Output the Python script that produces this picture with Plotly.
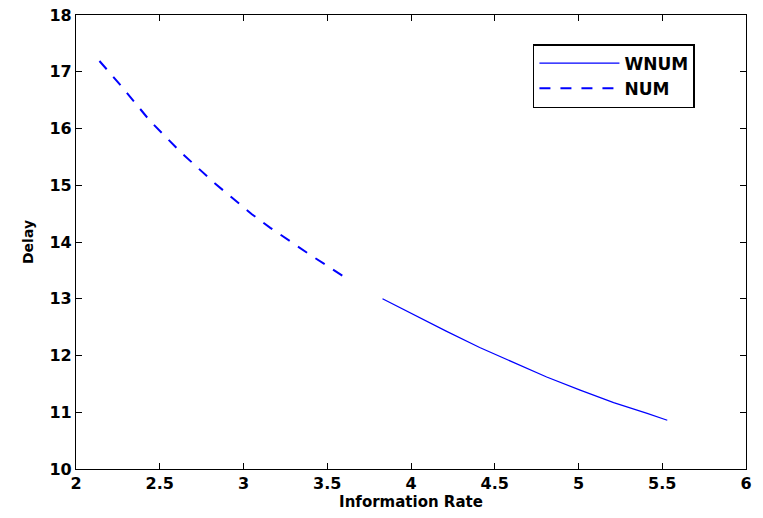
import plotly.graph_objects as go

# Data
num_x = [2.14, 2.27, 2.44, 2.63, 2.83, 3.05, 3.16, 3.39, 3.63]
num_y = [17.19, 16.75, 16.14, 15.57, 15.03, 14.49, 14.25, 13.79, 13.33]

wnum_x = [3.83, 4.0, 4.21, 4.41, 4.61, 4.81, 5.01, 5.21, 5.41, 5.53]
wnum_y = [13.0, 12.74, 12.43, 12.14, 11.88, 11.62, 11.39, 11.17, 10.98, 10.86]

x_ticks = [2, 2.5, 3, 3.5, 4, 4.5, 5, 5.5, 6]
x_tick_labels = ["2", "2.5", "3", "3.5", "4", "4.5", "5", "5.5", "6"]
y_ticks = [10, 11, 12, 13, 14, 15, 16, 17, 18]
y_tick_labels = ["10", "11", "12", "13", "14", "15", "16", "17", "18"]

FONT = "DejaVu Sans"

fig = go.Figure()
fig.add_trace(go.Scatter(
    x=wnum_x, y=wnum_y, mode="lines", name="WNUM",
    line=dict(color="#0000ff", width=1.2),
))
fig.add_trace(go.Scatter(
    x=num_x, y=num_y, mode="lines", name="NUM",
    line=dict(color="#0000ff", width=2, dash="11px,10px"),
))

axis_common = dict(
    showgrid=False, zeroline=False, showline=True, linecolor="black",
    linewidth=1.3, mirror="ticks", ticks="inside", ticklen=6,
    tickcolor="black", tickwidth=1, automargin=False,
    tickfont=dict(family=FONT, size=16, color="black", weight="bold"),
)

fig.update_layout(
    width=763, height=518,
    margin=dict(l=76, r=17, t=15, b=49),
    paper_bgcolor="white", plot_bgcolor="white",
    font=dict(family=FONT, size=16, color="black", weight="bold"),
    xaxis=dict(
        range=[2, 6], tickvals=x_ticks, ticktext=x_tick_labels,
        title=dict(text="Information Rate", standoff=0,
                   font=dict(family=FONT, size=15, color="black", weight="bold")),
        **axis_common,
    ),
    yaxis=dict(
        range=[10, 18], tickvals=y_ticks, ticktext=y_tick_labels,
        title=dict(text="Delay", standoff=12,
                   font=dict(family=FONT, size=14, color="black", weight="bold")),
        **axis_common,
    ),
    legend=dict(
        x=0.682, y=0.936, xanchor="left", yanchor="top",
        bgcolor="white", bordercolor="black", borderwidth=1.5,
        font=dict(family=FONT, size=17, color="black", weight="bold"),
        itemwidth=80, tracegroupgap=0,
    ),
    showlegend=True,
)

fig.write_html("out.html", config={"displayModeBar": False},
               post_script="document.body.style.margin='0';")
